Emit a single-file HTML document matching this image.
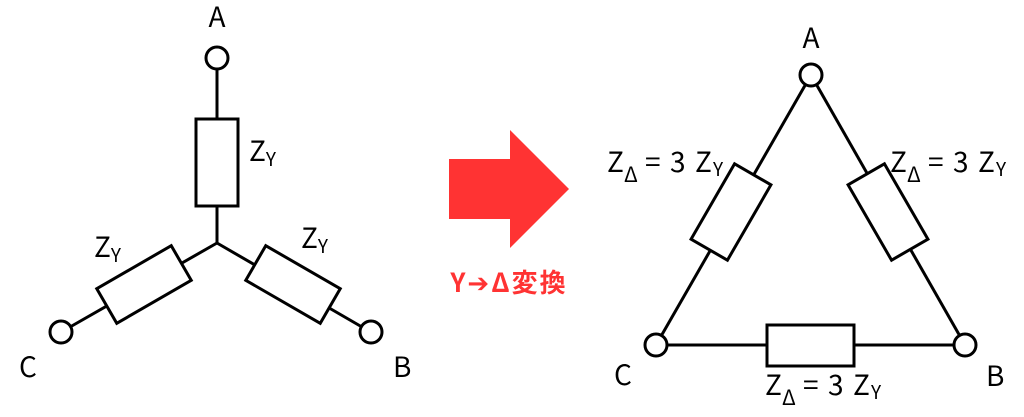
<!DOCTYPE html>
<html><head><meta charset="utf-8"><style>
html,body{margin:0;padding:0;background:#fff;}
svg{display:block}
text{font-family:"Noto Sans CJK JP","DejaVu Sans",sans-serif;fill:#000}
</style></head><body>
<svg width="1024" height="417" viewBox="0 0 1024 417" xmlns="http://www.w3.org/2000/svg">
<g stroke="#000" stroke-width="3" fill="none">
  <line x1="217" y1="69" x2="217" y2="119"/>
  <rect x="196" y="119" width="42" height="87" fill="#fff"/>
  <line x1="217" y1="206" x2="217" y2="243"/>
  <line x1="217" y1="243" x2="70" y2="327"/>
  <line x1="217" y1="243" x2="362" y2="327"/>
  <rect x="-43" y="-20" width="86" height="40" fill="#fff" transform="translate(144,284.5) rotate(-30)"/>
  <rect x="-43" y="-20" width="86" height="40" fill="#fff" transform="translate(293,284.5) rotate(30)"/>
  <circle cx="217" cy="58" r="11" fill="#fff"/>
  <circle cx="61" cy="332" r="11" fill="#fff"/>
  <circle cx="371" cy="332" r="11" fill="#fff"/>
  <line x1="811" y1="75" x2="656" y2="345"/>
  <line x1="811" y1="75" x2="965" y2="345"/>
  <line x1="656" y1="345" x2="965" y2="345"/>
  <rect x="767" y="325" width="87" height="41" fill="#fff"/>
  <rect x="-43.5" y="-21" width="87" height="42" fill="#fff" transform="translate(731,212) rotate(-60)"/>
  <rect x="-43.5" y="-21" width="87" height="42" fill="#fff" transform="translate(888,212) rotate(60)"/>
  <circle cx="811" cy="75" r="11" fill="#fff"/>
  <circle cx="656" cy="345" r="11" fill="#fff"/>
  <circle cx="965" cy="345" r="11" fill="#fff"/>
</g>
<polygon points="449,159 510,159 510,130 569,189 510,248 510,219 449,219" fill="#ff3333"/>
<text x="509" y="292" font-size="26" font-weight="bold" text-anchor="middle" letter-spacing="2" style="fill:#ff3333">Y➔Δ変換</text>
<g font-size="28">
<text x="217" y="27" text-anchor="middle">A</text>
<text x="19" y="377">C</text>
<text x="393" y="377">B</text>
<text x="249" y="161">Z<tspan font-size="19" dy="5">Y</tspan></text>
<text x="94" y="257">Z<tspan font-size="19" dy="5">Y</tspan></text>
<text x="301" y="248">Z<tspan font-size="19" dy="5">Y</tspan></text>
<text x="811" y="48" text-anchor="middle">A</text>
<text x="614" y="385">C</text>
<text x="986" y="386">B</text>
<text x="607" y="172">Z</text><text x="624" y="182" font-size="21">Δ</text><text x="645" y="172">=</text><text x="670" y="172">3</text><text x="695" y="172">Z</text><text x="713" y="176" font-size="19">Y</text>
<text x="890" y="172">Z</text><text x="907" y="182" font-size="21">Δ</text><text x="928" y="172">=</text><text x="953" y="172">3</text><text x="978" y="172">Z</text><text x="996" y="176" font-size="19">Y</text>
<text x="765" y="395">Z</text><text x="782" y="405" font-size="21">Δ</text><text x="803" y="395">=</text><text x="828" y="395">3</text><text x="853" y="395">Z</text><text x="871" y="399" font-size="19">Y</text>
</g>
</svg>
</body></html>
